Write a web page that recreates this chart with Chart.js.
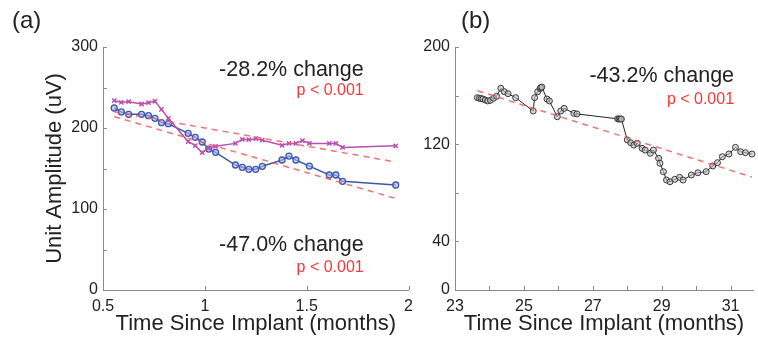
<!DOCTYPE html>
<html>
<head>
<meta charset="utf-8">
<script src="https://cdn.jsdelivr.net/npm/chart.js@4"></script>
<style>
  html, body { margin: 0; padding: 0; background: #fff; }
  #wrap { position: relative; width: 758px; height: 345px; }
  .panel { position: absolute; top: 0; height: 345px; }
  #pa { left: 0; width: 420px; }
  #pb { left: 420px; width: 338px; }
  .tag { position: absolute; top: 6px; font: 24px "Liberation Sans", Arial, sans-serif; color: #222; }
</style>
</head>
<body>
<div id="wrap">
  <div class="panel" id="pa"><canvas id="ca"></canvas></div>
  <div class="panel" id="pb"><canvas id="cb"></canvas></div>
  <div class="tag" style="left:12px">(a)</div>
  <div class="tag" style="left:461px">(b)</div>
</div>
<script>
// panel (a): two units, early after implant
const timeA = [0.555, 0.590, 0.626, 0.689, 0.723, 0.755, 0.787, 0.821, 0.918, 0.953, 0.987, 1.019, 1.053,
  1.150, 1.184, 1.216, 1.250, 1.282, 1.379, 1.413, 1.447, 1.479, 1.513, 1.611, 1.643, 1.676, 1.937];
const ampBlue = [224.7, 219.8, 216.9, 216.9, 215.2, 212, 206.6, 205.3, 193.4, 188.5, 182.7, 174, 170,
  154.3, 151.5, 149, 149, 152.7, 160.5, 165.4, 160.5, null, 153, 142, 142, 134.2, 129.6];
const ampMagenta = [233.7, 231.7, 232.5, 229.6, 231.3, 233, 223, 212, 183.2, 178.2, 169.5, 175.3, 177.4,
  181, 186, 185.6, 186.8, 185, 178.6, 181, 181, 184.4, 181, 181, 181, 176, 178];
const trendTimeA = [0.555, 1.937];
const trendBlue = [214, 113];
const trendMagenta = [220, 158];

// panel (b): one unit, two years later
const timeB = [23.65, 23.71, 23.76, 23.81, 23.88, 23.95, 24.03, 24.12, 24.21, 24.33, 24.43, 24.54, 24.76,
  25.27, 25.31, 25.40, 25.47, 25.49, 25.52, 25.67, 25.74, 25.97, 26.07, 26.17, 26.45, 26.54,
  27.72, 27.76, 27.80, 27.83, 28.00, 28.10, 28.19, 28.29, 28.43, 28.52, 28.67, 28.76, 28.91, 28.95,
  29.05, 29.14, 29.24, 29.38, 29.52, 29.62, 29.86, 30.05, 30.29, 30.48, 30.62, 30.76, 30.95,
  31.14, 31.29, 31.43, 31.62];
const ampB = [158.3, 157.8, 157.5, 157.2, 156.4, 155.6, 156.1, 157.8, 159.4, 166, 163.2, 161.6, 158.3,
  147.3, 158.3, 163.2, 165.8, 166.6, 167, 157.2, 155.6, 142.6, 147.3, 149.5, 145.4, 144.9,
  140.9, 140.7, 140.8, 140.7, 123.5, 121.2, 119.3, 120.7, 116.6, 115.2, 112.5, 115.2, 108.4, 104.3,
  97.4, 90.5, 89.1, 91.1, 92.7, 90.5, 94.6, 96.5, 97.4, 102.1, 104.8, 109.7, 111.9,
  117.4, 113.8, 113, 111.9];
const trendTimeB = [23.65, 31.62];
const trendB = [164, 93];

const yLabelsB = [0, 40, 120, 200];

const FONT = '"Liberation Sans", Arial, Helvetica, sans-serif';
const RED = '#ee3b3b';
const DASH_RED = 'rgba(240, 90, 90, 0.85)';
const AXIS = '#8a8a8a';

const pts = (xs, ys) => xs.map((x, i) => ({ x: x, y: ys[i] }));

// tick marks pointing into the plot
const inwardTicks = {
  id: 'inwardTicks',
  afterDatasetsDraw(chart) {
    const { ctx } = chart;
    const xs = chart.scales.x, ys = chart.scales.y;
    ctx.save();
    ctx.strokeStyle = AXIS;
    ctx.lineWidth = 1;
    ctx.beginPath();
    xs.ticks.forEach(t => {
      const px = Math.round(xs.getPixelForValue(t.value)) + 0.5;
      ctx.moveTo(px, ys.bottom);
      ctx.lineTo(px, ys.bottom - 4);
    });
    ys.ticks.forEach(t => {
      const py = Math.round(ys.getPixelForValue(t.value)) + 0.5;
      ctx.moveTo(xs.left, py);
      ctx.lineTo(xs.left + 4, py);
    });
    ctx.stroke();
    ctx.restore();
  }
};

// "% change" and p-value notes, placed in data units
const notes = {
  id: 'notes',
  afterDraw(chart, args, opts) {
    const { ctx } = chart;
    const xs = chart.scales.x, ys = chart.scales.y;
    ctx.save();
    ctx.textAlign = 'right';
    ctx.textBaseline = 'alphabetic';
    (opts.items || []).forEach(n => {
      ctx.font = n.size + 'px ' + FONT;
      ctx.fillStyle = n.color;
      ctx.fillText(n.text, xs.getPixelForValue(n.x), ys.getPixelForValue(n.y));
    });
    ctx.restore();
  }
};

function scales(o) {
  return {
    x: {
      type: 'linear', min: o.xmin, max: o.xmax,
      grid: { display: false, drawTicks: false },
      border: { display: true, color: AXIS, width: 1, dash: [2, 1] },
      ticks: {
        stepSize: o.xstep, includeBounds: false, padding: 7, color: '#222', maxRotation: 0,
        font: { family: FONT, size: 16 },
        callback: o.xlabel
      },
      title: {
        display: true, text: 'Time Since Implant (months)', color: '#222',
        font: { family: FONT, size: 22 }, padding: { top: 0, bottom: 8 }
      },
      afterFit: s => { s.height = 55; }
    },
    y: {
      type: 'linear', min: 0, max: o.ymax,
      grid: { display: false, drawTicks: false },
      border: { display: true, color: AXIS, width: 1 },
      ticks: {
        stepSize: o.ystep, padding: 5, color: '#222',
        font: { family: FONT, size: 16 },
        callback: o.ylabel
      },
      title: {
        display: !!o.ytitle, text: o.ytitle || '', color: '#222',
        font: { family: FONT, size: 22 }, padding: { top: 42, bottom: 0 }
      },
      afterFit: s => { s.width = o.ywidth; }
    }
  };
}

new Chart(document.getElementById('ca'), {
  type: 'line',
  data: {
    datasets: [
      {
        data: pts(trendTimeA, trendMagenta), borderColor: DASH_RED, borderWidth: 1.5,
        borderDash: [6, 5], pointRadius: 0
      },
      {
        data: pts(trendTimeA, trendBlue), borderColor: DASH_RED, borderWidth: 1.5,
        borderDash: [6, 5], pointRadius: 0
      },
      {
        data: pts(timeA, ampMagenta), borderColor: '#bb4fb0', borderWidth: 1.5,
        pointStyle: 'crossRot', pointRadius: 3, pointBorderWidth: 1.5, pointBorderColor: '#bb4fb0'
      },
      {
        data: pts(timeA, ampBlue), borderColor: '#3f56ad', borderWidth: 1.5, spanGaps: true,
        pointStyle: 'circle', pointRadius: 3, pointBorderWidth: 1.3,
        pointBorderColor: '#3f56ad', pointBackgroundColor: 'rgba(170,185,235,0.6)'
      }
    ]
  },
  options: {
    responsive: true, maintainAspectRatio: false, animation: false,
    layout: { padding: { top: 47, right: 7, left: 0, bottom: 0 } },
    elements: { line: { tension: 0 } },
    clip: false,
    scales: scales({
      xmin: 0.5, xmax: 2, xstep: 0.5, xlabel: v => v,
      ymax: 300, ystep: 50, ylabel: v => (v % 100 === 0 ? v : ''),
      ytitle: 'Unit Amplitude (uV)', ywidth: 103
    }),
    plugins: {
      legend: { display: false }, tooltip: { enabled: false },
      notes: {
        items: [
          { text: '-28.2% change', x: 1.78, y: 264, color: '#222', size: 21.5 },
          { text: 'p < 0.001', x: 1.78, y: 241, color: RED, size: 16 },
          { text: '-47.0% change', x: 1.78, y: 48, color: '#222', size: 21.5 },
          { text: 'p < 0.001', x: 1.78, y: 22, color: RED, size: 16 }
        ]
      }
    }
  },
  plugins: [inwardTicks, notes]
});

new Chart(document.getElementById('cb'), {
  type: 'line',
  data: {
    datasets: [
      {
        data: pts(trendTimeB, trendB), borderColor: DASH_RED, borderWidth: 1.5,
        borderDash: [6, 5], pointRadius: 0
      },
      {
        data: pts(timeB, ampB), borderColor: '#222', borderWidth: 1,
        pointStyle: 'circle', pointRadius: 3, pointBorderWidth: 1,
        pointBorderColor: '#3a3a3a', pointBackgroundColor: 'rgba(190,190,190,0.6)'
      }
    ]
  },
  options: {
    responsive: true, maintainAspectRatio: false, animation: false,
    layout: { padding: { top: 47, right: 1, left: 0, bottom: 0 } },
    elements: { line: { tension: 0 } },
    clip: false,
    scales: scales({
      xmin: 23, xmax: 31.65, xstep: 1, xlabel: v => (v % 2 === 1 ? v : ''),
      ymax: 200, ystep: 40, ylabel: v => (yLabelsB.includes(v) ? v : ''),
      ytitle: '', ywidth: 35
    }),
    plugins: {
      legend: { display: false }, tooltip: { enabled: false },
      notes: {
        items: [
          { text: '-43.2% change', x: 31.1, y: 171, color: '#222', size: 21.5 },
          { text: 'p < 0.001', x: 31.1, y: 153, color: RED, size: 16 }
        ]
      }
    }
  },
  plugins: [inwardTicks, notes]
});
</script>
</body>
</html>
